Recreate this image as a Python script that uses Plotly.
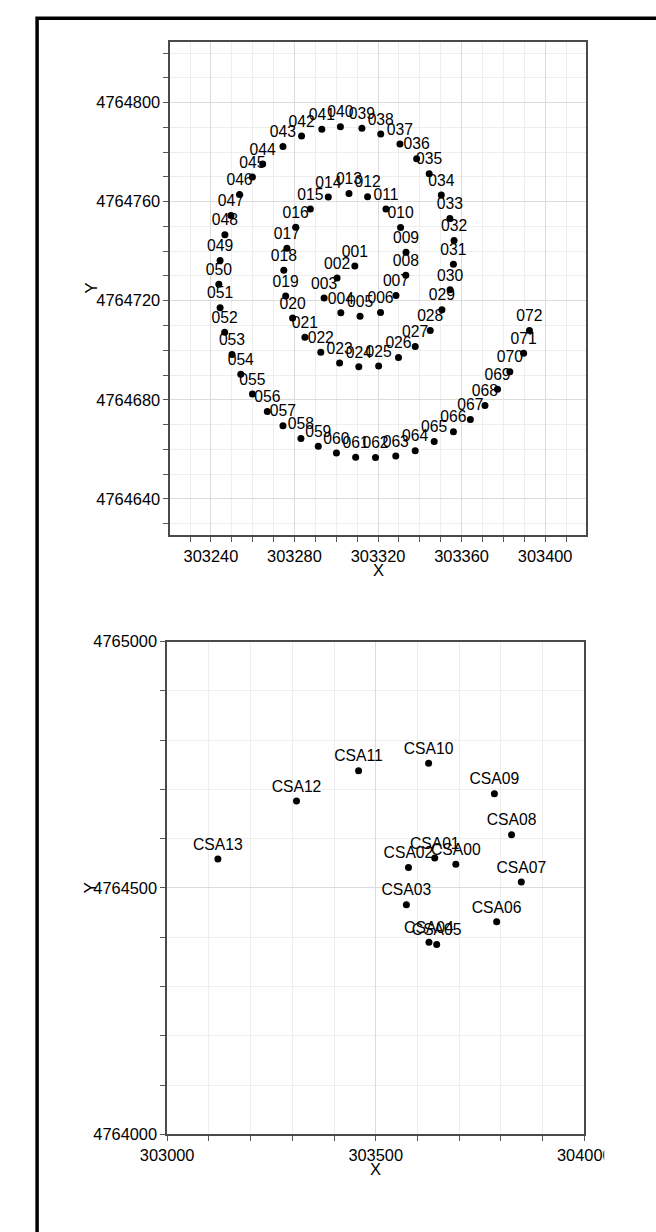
import plotly.graph_objects as go

W, H = 656, 1232

# ---------------- data: spiral survey points (top panel) ----------------
spiral_labels = ["001","002","003","004","005","006","007","008","009","010",
                 "011","012","013","014","015","016","017","018","019","020",
                 "021","022","023","024","025","026","027","028","029","030",
                 "031","032","033","034","035","036","037","038","039","040",
                 "041","042","043","044","045","046","047","048","049","050",
                 "051","052","053","054","055","056","057","058","059","060",
                 "061","062","063","064","065","066","067","068","069","070",
                 "071","072"]
spiral_x = [303308.9, 303300.4, 303294.2, 303302.2, 303311.4, 303321.2, 303328.6, 303333.3, 303333.4, 303330.8,
            303323.8, 303315.0, 303306.1, 303296.2, 303287.6, 303280.6, 303276.4, 303274.9, 303275.8, 303279.1,
            303285.0, 303292.6, 303301.6, 303310.8, 303320.3, 303329.8, 303337.8, 303345.0, 303350.6, 303354.5,
            303356.1, 303356.4, 303354.4, 303350.3, 303344.5, 303338.5, 303330.5, 303321.3, 303312.3, 303302.0,
            303293.1, 303283.4, 303274.5, 303264.8, 303259.9, 303253.7, 303249.6, 303246.7, 303244.4, 303243.8,
            303244.4, 303246.6, 303250.1, 303254.3, 303259.9, 303267.0, 303274.5, 303283.1, 303291.4, 303300.1,
            303309.3, 303318.8, 303328.5, 303337.8, 303346.9, 303356.1, 303364.2, 303371.2, 303377.2, 303383.1,
            303389.7, 303392.5]
spiral_y = [4764734.0, 4764729.2, 4764721.1, 4764715.1, 4764713.7, 4764715.2, 4764722.1, 4764730.3, 4764739.6, 4764749.6,
            4764757.1, 4764762.0, 4764763.3, 4764761.9, 4764757.1, 4764749.7, 4764741.2, 4764732.3, 4764721.9, 4764713.0,
            4764705.3, 4764699.2, 4764694.9, 4764693.3, 4764693.6, 4764697.1, 4764701.5, 4764708.0, 4764716.4, 4764724.4,
            4764734.7, 4764744.3, 4764753.2, 4764762.7, 4764771.3, 4764777.4, 4764783.3, 4764787.3, 4764789.7, 4764790.3,
            4764789.3, 4764786.5, 4764782.3, 4764775.2, 4764770.0, 4764762.9, 4764754.4, 4764746.7, 4764736.3, 4764726.7,
            4764717.2, 4764707.3, 4764698.3, 4764690.3, 4764682.3, 4764675.3, 4764669.5, 4764664.4, 4764661.2, 4764658.5,
            4764656.8, 4764656.7, 4764657.3, 4764659.4, 4764663.1, 4764667.1, 4764672.0, 4764677.7, 4764684.3, 4764691.3,
            4764698.8, 4764708.0]

# ---------------- data: CSA stations (bottom panel) ----------------
csa_labels = ["CSA00","CSA01","CSA02","CSA03","CSA04","CSA05","CSA06",
              "CSA07","CSA08","CSA09","CSA10","CSA11","CSA12","CSA13"]
csa_x = [303692.0, 303641.5, 303578.5, 303573.5, 303627.6, 303646.1, 303789.9,
         303849.0, 303825.5, 303784.5, 303626.8, 303458.9, 303310.1, 303121.7]
csa_y = [4764548.0, 4764561.0, 4764541.5, 4764466.0, 4764390.0, 4764385.3, 4764431.3,
         4764512.0, 4764608.0, 4764691.3, 4764753.3, 4764738.0, 4764676.7, 4764558.7]

# axis ranges
top_xrange = [303220.5, 303419.5]
top_yrange = [4764625.3, 4764824.7]
bot_xrange = [303000, 304000]
bot_yrange = [4764000, 4765000]

FONT = "Liberation Sans, Arial, Helvetica, sans-serif"

# panel boxes in pixels (left, right, top, bottom)
TOP = (156, 609, 33, 534)
BOT = (152.7, 607.3, 642, 1142)

fig = go.Figure()
fig.add_trace(go.Scatter(
    x=spiral_x, y=spiral_y, text=spiral_labels, mode="markers+text",
    textposition="top center", textfont=dict(size=15.7, color="black", family=FONT),
    marker=dict(size=7, color="black"), xaxis="x", yaxis="y", cliponaxis=False,
    showlegend=False, hoverinfo="skip"))
fig.add_trace(go.Scatter(
    x=csa_x, y=csa_y, text=csa_labels, mode="markers+text",
    textposition="top center", textfont=dict(size=15.7, color="black", family=FONT),
    marker=dict(size=7, color="black"), xaxis="x2", yaxis="y2", cliponaxis=False,
    showlegend=False, hoverinfo="skip"))


def ax(domain, rng, tick0, dtick, minor_dtick, anchor):
    return dict(
        domain=domain, range=rng, anchor=anchor, tick0=tick0, dtick=dtick,
        tickformat="d", ticks="outside", ticklen=5, tickcolor="#555555", tickwidth=1,
        showline=True, mirror=True, linecolor="#4a4a4a", linewidth=1.5,
        showgrid=True, gridcolor="#dcdcdc", gridwidth=1, zeroline=False,
        tickfont=dict(size=16.4, color="black", family=FONT),
        minor=dict(dtick=minor_dtick, ticks="outside", ticklen=5, tickcolor="#555555",
                   showgrid=True, gridcolor="#eeeeee", gridwidth=1),
    )


def px_x(p):
    return p / W


def px_y(p):
    return 1 - p / H


title_font = dict(size=16.5, color="black", family=FONT)
annotations = [
    dict(text="X", x=px_x((TOP[0] + TOP[1]) / 2), y=px_y(569), xref="paper", yref="paper",
         showarrow=False, font=title_font, xanchor="center", yanchor="middle"),
    dict(text="Y", x=px_x(70), y=px_y((TOP[2] + TOP[3]) / 2), xref="paper", yref="paper",
         showarrow=False, font=title_font, textangle=-90, xanchor="center", yanchor="middle"),
    dict(text="X", x=px_x((BOT[0] + BOT[1]) / 2), y=px_y(1177), xref="paper", yref="paper",
         showarrow=False, font=title_font, xanchor="center", yanchor="middle"),
    dict(text="Y", x=px_x(69), y=px_y((BOT[2] + BOT[3]) / 2), xref="paper", yref="paper",
         showarrow=False, font=title_font, textangle=-90, xanchor="center", yanchor="middle"),
]

fig.update_layout(
    width=W, height=H, margin=dict(l=0, r=0, t=0, b=0),
    paper_bgcolor="white", plot_bgcolor="white",
    font=dict(family=FONT, color="black"),
    xaxis=ax([px_x(TOP[0]), px_x(TOP[1])], top_xrange, 303240, 40, 10, "y"),
    yaxis=ax([px_y(TOP[3]), px_y(TOP[2])], top_yrange, 4764640, 40, 10, "x"),
    xaxis2=ax([px_x(BOT[0]), px_x(BOT[1])], bot_xrange, 303000, 500, 100, "y2"),
    yaxis2=ax([px_y(BOT[3]), px_y(BOT[2])], bot_yrange, 4764000, 500, 100, "x2"),
    annotations=annotations,
    shapes=[
        # outer black frame of the figure (only its left and top sides are in view)
        dict(type="rect", xref="paper", yref="paper",
             x0=px_x(11), x1=1.2, y0=-0.2, y1=px_y(9.5),
             line=dict(color="black", width=3.5), fillcolor="rgba(0,0,0,0)", layer="above"),
        # the original graphic is cut at its right edge, clipping the last x label
        dict(type="rect", xref="paper", yref="paper",
             x0=px_x(629), x1=px_x(660), y0=px_y(1172), y1=px_y(1146),
             line=dict(width=0), fillcolor="white", layer="above"),
    ],
)

fig.write_html("out.html", config={"displayModeBar": False},
               post_script="document.body.style.margin='0';")
